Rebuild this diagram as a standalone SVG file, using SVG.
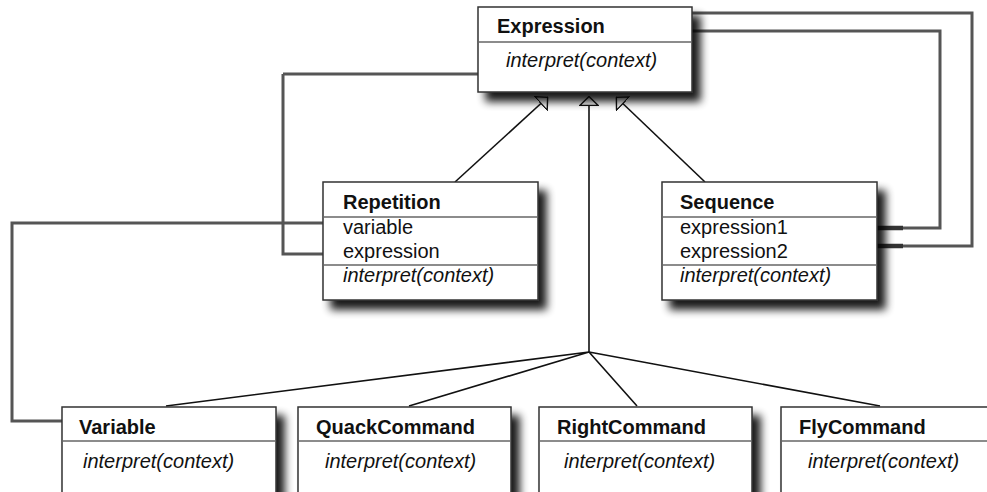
<svg xmlns="http://www.w3.org/2000/svg" width="987" height="492" viewBox="0 0 987 492">
<style>
.box{fill:#fff;stroke:#333;stroke-width:1.5}
.div{stroke:#666;stroke-width:1.5}
.t{font-family:"Liberation Sans",Arial,sans-serif;font-size:20px;fill:#111}
.b{font-weight:bold}
.i{font-style:italic}
.gen{fill:none;stroke:#111;stroke-width:1.6}
.ref{fill:none;stroke:#555;stroke-width:3}
.stub{stroke:#333;stroke-width:4.5}
</style>
<defs>
<filter id="sh" x="-20%" y="-20%" width="150%" height="160%">
<feGaussianBlur in="SourceAlpha" stdDeviation="4.5"/>
<feOffset dx="8" dy="9"/>
<feComponentTransfer><feFuncA type="linear" slope="0.9"/></feComponentTransfer>
<feMerge><feMergeNode/><feMergeNode in="SourceGraphic"/></feMerge>
</filter>
<marker id="tri" viewBox="0 0 10 20" refX="10" refY="10" markerWidth="10" markerHeight="20" markerUnits="userSpaceOnUse" orient="auto">
<path d="M0.5,0.8 L9.5,10 L0.5,19.2 Z" fill="#fff" stroke="#111" stroke-width="1.4"/>
</marker>
</defs>
<rect width="987" height="492" fill="#fff"/>

<g id="connectors">
<path class="ref" d="M283,74 H478 M283,74 V254 H323"/>
<path class="ref" d="M323,223 H12 V421 H62"/>
<path class="ref" d="M692,13 H972 V246 H900"/>
<path class="ref" d="M692,31 H940 V228 H900"/>
<line class="stub" x1="877" y1="228" x2="903" y2="228"/>
<line class="stub" x1="877" y1="246" x2="903" y2="246"/>
<line class="gen" x1="455" y1="182" x2="548" y2="97" marker-end="url(#tri)"/>
<line class="gen" x1="705" y1="182" x2="616" y2="97" marker-end="url(#tri)"/>
<line class="gen" x1="589" y1="352" x2="589" y2="96" marker-end="url(#tri)"/>
<path class="gen" d="M166,406 L589,352 M409,406 L589,352 M637,406 L589,352 M880,406 L589,352"/>
</g>

<g id="expression">
<rect class="box" x="478" y="7" width="214" height="85" filter="url(#sh)"/>
<line class="div" x1="478" y1="42" x2="692" y2="42"/>
<text class="t b" x="497" y="33">Expression</text>
<text class="t i" x="506" y="67">interpret(context)</text>
</g>

<g id="repetition">
<rect class="box" x="323" y="182" width="215" height="118" filter="url(#sh)"/>
<line class="div" x1="323" y1="217" x2="538" y2="217"/>
<line class="div" x1="323" y1="265" x2="538" y2="265"/>
<text class="t b" x="343" y="209">Repetition</text>
<text class="t" x="343" y="234">variable</text>
<text class="t" x="343" y="258">expression</text>
<text class="t i" x="343" y="282">interpret(context)</text>
</g>

<g id="sequence">
<rect class="box" x="662" y="182" width="215" height="118" filter="url(#sh)"/>
<line class="div" x1="662" y1="217" x2="877" y2="217"/>
<line class="div" x1="662" y1="265" x2="877" y2="265"/>
<text class="t b" x="680" y="209">Sequence</text>
<text class="t" x="680" y="234">expression1</text>
<text class="t" x="680" y="258">expression2</text>
<text class="t i" x="680" y="282">interpret(context)</text>
</g>

<g id="variable">
<rect class="box" x="62" y="407" width="214" height="120" filter="url(#sh)"/>
<line class="div" x1="62" y1="441" x2="276" y2="441"/>
<text class="t b" x="79" y="434">Variable</text>
<text class="t i" x="83" y="468">interpret(context)</text>
</g>

<g id="quackcommand">
<rect class="box" x="298" y="407" width="213" height="120" filter="url(#sh)"/>
<line class="div" x1="298" y1="441" x2="511" y2="441"/>
<text class="t b" x="316" y="434">QuackCommand</text>
<text class="t i" x="325" y="468">interpret(context)</text>
</g>

<g id="rightcommand">
<rect class="box" x="539" y="407" width="213" height="120" filter="url(#sh)"/>
<line class="div" x1="539" y1="441" x2="752" y2="441"/>
<text class="t b" x="557" y="434">RightCommand</text>
<text class="t i" x="564" y="468">interpret(context)</text>
</g>

<g id="flycommand">
<rect class="box" x="781" y="407" width="230" height="120" filter="url(#sh)"/>
<line class="div" x1="781" y1="441" x2="987" y2="441"/>
<text class="t b" x="799" y="434">FlyCommand</text>
<text class="t i" x="808" y="468">interpret(context)</text>
</g>
</svg>
